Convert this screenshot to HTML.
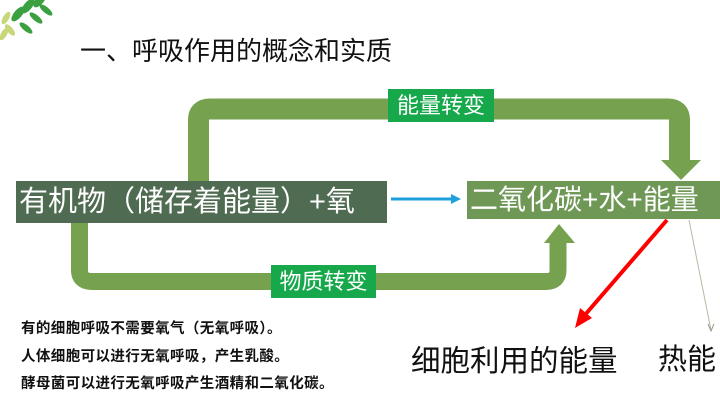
<!DOCTYPE html>
<html><head><meta charset="utf-8"><style>
body{margin:0;width:720px;height:405px;background:#fff;overflow:hidden;position:relative;font-family:"Liberation Sans","Noto Sans CJK SC",sans-serif}
.a{position:absolute;white-space:nowrap}
</style></head><body>
<svg class="a" style="left:0;top:0" width="720" height="405">
 <g fill="#3aa040">
  <ellipse cx="18" cy="14" rx="4" ry="9" transform="rotate(40 18 14)"/>
  <ellipse cx="28" cy="6" rx="4" ry="9" transform="rotate(40 28 6)"/>
  <ellipse cx="40" cy="0" rx="4" ry="9" transform="rotate(40 40 0)"/>
  <ellipse cx="46" cy="10" rx="3" ry="8" transform="rotate(-50 46 10)"/>
  <ellipse cx="36" cy="18" rx="3" ry="8" transform="rotate(-50 36 18)"/>
  <ellipse cx="26" cy="28" rx="3" ry="8" transform="rotate(-50 26 28)"/>
 </g>
 <g fill="#c6d879">
  <ellipse cx="6" cy="18" rx="3" ry="7" transform="rotate(30 6 18)"/>
  <ellipse cx="10" cy="30" rx="3" ry="7" transform="rotate(-40 10 30)"/>
  <ellipse cx="4" cy="34" rx="3" ry="7" transform="rotate(30 4 34)"/>
 </g>
 <path d="M198.5,181 V120 Q198.5,109 210,109 H668 Q679.5,109 679.5,120 V162" fill="none" stroke="#76a250" stroke-width="21"/>
 <polygon points="661,160 701,160 681,180" fill="#76a250"/>
 <path d="M79.5,222 V270 Q79.5,281.5 92,281.5 H546 Q558,281.5 558,270 V240" fill="none" stroke="#76a250" stroke-width="17"/>
 <polygon points="544,243 575,243 559,224" fill="#76a250"/>
 <line x1="391" y1="199" x2="453" y2="199" stroke="#1ea0dc" stroke-width="3"/>
 <polygon points="451,194 461,199 451,204" fill="#1ea0dc"/>
 <line x1="667" y1="220" x2="584" y2="316" stroke="#f00" stroke-width="4"/>
 <polygon points="575,328 580,308 592,318" fill="#f00"/>
 <line x1="689" y1="220" x2="711" y2="330" stroke="#b8b8a8" stroke-width="1"/>
 <polyline points="708,324 711,331 714,324" fill="none" stroke="#9a9a88" stroke-width="1"/>
</svg>
<div class="a" style="left:80px;top:31px;font-size:26px;color:#111">一、呼吸作用的概念和实质</div>
<div class="a" style="left:16px;top:181px;width:371px;height:42px;background:#4f6b51;color:#fff;font-size:29px;line-height:42px;padding-left:3px;box-sizing:border-box">有机物（储存着能量）+氧</div>
<div class="a" style="left:467px;top:181px;width:253px;height:38px;background:#6f9856;color:#fff;font-size:28px;line-height:38px;padding-left:3px;box-sizing:border-box">二氧化碳+水+能量</div>
<div class="a" style="left:388px;top:89px;width:106px;height:33px;background:#17a84c;color:#fff;font-size:22px;line-height:33px;text-align:center">能量转变</div>
<div class="a" style="left:271px;top:265px;width:105px;height:33px;background:#17a84c;color:#fff;font-size:22px;line-height:33px;text-align:center">物质转变</div>
<div class="a" style="left:21px;top:316px;font-size:14.5px;letter-spacing:0.4px;font-weight:bold;color:#111;line-height:27.5px">有的细胞呼吸不需要氧气（无氧呼吸）。<br>人体细胞可以进行无氧呼吸，产生乳酸。<br>酵母菌可以进行无氧呼吸产生酒精和二氧化碳。</div>
<div class="a" style="left:411px;top:338px;font-size:29.5px;color:#111">细胞利用的能量</div>
<div class="a" style="left:658px;top:336px;font-size:29px;color:#111">热能</div>
</body></html>
